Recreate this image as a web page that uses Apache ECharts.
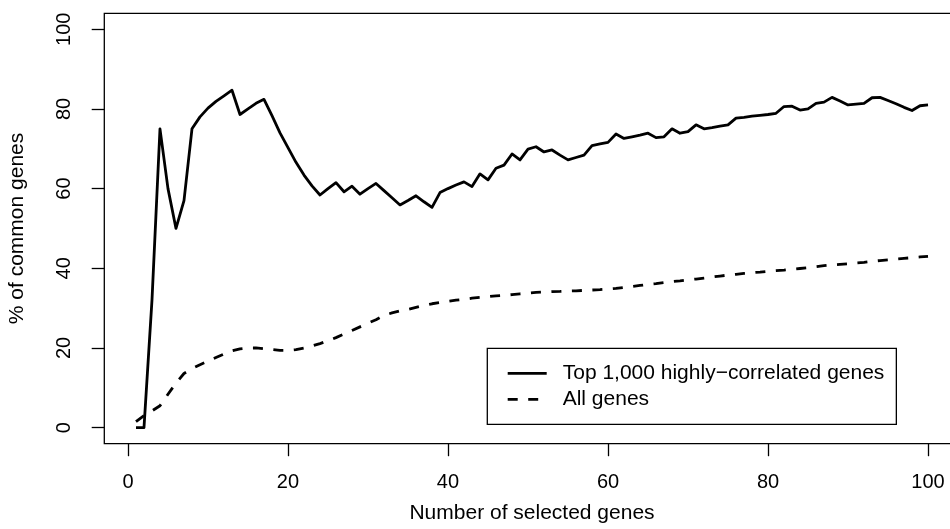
<!DOCTYPE html>
<html>
<head>
<meta charset="utf-8">
<title>% of common genes</title>
<script src="https://cdn.jsdelivr.net/npm/echarts@6/dist/echarts.min.js"></script>
<style>
  html, body { margin: 0; padding: 0; background: #fff; }
  #chart { width: 950px; height: 529px; }
</style>
</head>
<body>
<div id="chart"></div>
<script>
// Number of selected genes (x) and overlap percentages for the two gene sets
const selectedGenes = Array.from({ length: 100 }, (_, i) => i + 1);

const topCorrelated = [
  0, 0, 32, 75, 60, 50, 57, 75, 78, 80.2,
  81.9, 83.3, 84.7, 78.6, 80, 81.4, 82.4, 78.3, 74, 70.3,
  66.6, 63.4, 60.7, 58.4, 60, 61.5, 59.2, 60.6, 58.6, 60,
  61.3, 59.5, 57.7, 55.9, 57, 58.2, 56.7, 55.3, 59, 60,
  60.9, 61.7, 60.5, 63.7, 62.2, 65.1, 65.9, 68.7, 67.2, 69.9,
  70.5, 69.2, 69.7, 68.4, 67.2, 67.8, 68.4, 70.8, 71.2, 71.6,
  73.7, 72.6, 73, 73.4, 73.9, 72.8, 73, 75, 73.9, 74.3,
  76, 75, 75.3, 75.7, 76, 77.7, 77.9, 78.2, 78.4, 78.6,
  78.9, 80.6, 80.7, 79.7, 80, 81.4, 81.7, 82.9, 82, 81,
  81.2, 81.4, 82.8, 82.9, 82.1, 81.3, 80.4, 79.6, 80.8, 81
];

const allGenes = [
  1.5, 3.0, 4.2, 5.5, 8.4, 11.2, 13.6, 14.8, 15.8, 16.7,
  17.6, 18.5, 19.3, 19.8, 20.0, 20.0, 19.8, 19.6, 19.4, 19.4,
  19.6, 20.0, 20.5, 21.1, 21.8, 22.6, 23.5, 24.4, 25.3, 26.2,
  27.1, 28.2, 28.8, 29.3, 29.7, 30.2, 30.7, 31.1, 31.4, 31.7,
  32.0, 32.2, 32.5, 32.7, 32.9, 33.1, 33.2, 33.4, 33.6, 33.8,
  33.95, 34.05, 34.15, 34.2, 34.3, 34.35, 34.45, 34.55, 34.65, 34.8,
  34.95, 35.2, 35.45, 35.7, 35.95, 36.15, 36.4, 36.65, 36.85, 37.1,
  37.3, 37.55, 37.8, 38.05, 38.3, 38.5, 38.7, 38.9, 39.05, 39.25,
  39.4, 39.55, 39.75, 39.95, 40.15, 40.4, 40.65, 40.85, 41.0, 41.15,
  41.35, 41.5, 41.75, 41.95, 42.1, 42.3, 42.5, 42.65, 42.85, 43.0
];

const xTicks = [0, 20, 40, 60, 80, 100];
const yTicks = [0, 20, 40, 60, 80, 100];

const seriesNames = ['Top 1,000 highly\u2212correlated genes', 'All genes'];

const FONT = "'Liberation Sans', Arial, Helvetica, sans-serif";
const INK = '#000';

// Axis ranges padded by 4% around the data, as in a base R plot
const xMin = 1 - 0.04 * 99, xMax = 100 + 0.04 * 99;
const yMin = -4, yMax = 104;

const pairs = (ys) => selectedGenes.map((x, i) => [x, ys[i]]);

const chart = echarts.init(document.getElementById('chart'), null, { renderer: 'canvas' });

chart.setOption({
  animation: false,
  backgroundColor: '#fff',
  textStyle: { fontFamily: FONT, color: INK },
  grid: {
    left: 104.3,
    top: 13.3,
    width: 855.4,
    height: 430.3,
    // the plot box runs a little past the right edge of the canvas
    outerBoundsMode: 'none',
    containLabel: false,
    show: true,
    borderColor: INK,
    borderWidth: 1.3,
    backgroundColor: 'transparent'
  },
  xAxis: {
    type: 'value',
    min: xMin,
    max: xMax,
    name: 'Number of selected genes',
    nameLocation: 'middle',
    nameGap: 59,
    nameTextStyle: { fontSize: 21, color: INK, fontFamily: FONT },
    axisLine: { show: false, onZero: false },
    splitLine: { show: false },
    axisTick: {
      show: true,
      inside: false,
      length: 12.6,
      customValues: xTicks,
      lineStyle: { color: INK, width: 1.3 }
    },
    axisLabel: {
      show: true,
      customValues: xTicks,
      margin: 29,
      fontSize: 20,
      color: INK,
      fontFamily: FONT
    }
  },
  yAxis: {
    type: 'value',
    min: yMin,
    max: yMax,
    name: '% of common genes',
    nameLocation: 'middle',
    nameRotate: 90,
    nameGap: 77,
    nameTextStyle: { fontSize: 21, color: INK, fontFamily: FONT },
    axisLine: { show: false, onZero: false },
    splitLine: { show: false },
    axisTick: {
      show: true,
      inside: false,
      length: 12.6,
      customValues: yTicks,
      lineStyle: { color: INK, width: 1.3 }
    },
    axisLabel: {
      show: true,
      customValues: yTicks,
      rotate: 90,
      margin: 30,
      fontSize: 20,
      color: INK,
      fontFamily: FONT
    }
  },
  legend: {
    orient: 'vertical',
    left: 487.3,
    top: 348.3,
    padding: [14.5, 12, 14.5, 19],
    itemGap: 5,
    itemWidth: 39,
    itemHeight: 21,
    borderColor: INK,
    borderWidth: 1.3,
    backgroundColor: '#fff',
    selectedMode: false,
    // line samples only, no marker in the middle of them
    itemStyle: { color: 'transparent', borderColor: 'transparent', borderWidth: 0, opacity: 0 },
    lineStyle: { width: 2.8 },
    textStyle: {
      fontSize: 21,
      color: INK,
      fontFamily: FONT,
      padding: [0, 0, 0, 11]
    },
    data: seriesNames
  },
  series: [
    {
      name: seriesNames[0],
      type: 'line',
      data: pairs(topCorrelated),
      symbol: 'none',
      lineStyle: { color: INK, width: 2.8, join: 'round' },
      itemStyle: { color: INK },
      z: 3
    },
    {
      name: seriesNames[1],
      type: 'line',
      data: pairs(allGenes),
      symbol: 'none',
      lineStyle: { color: INK, width: 2.8, type: [10, 10.5], join: 'round' },
      itemStyle: { color: INK },
      z: 2
    }
  ]
});
</script>
</body>
</html>
